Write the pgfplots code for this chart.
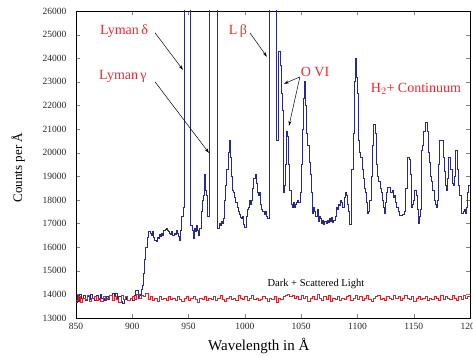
\documentclass[border=0pt]{standalone}
\usepackage{pgfplots}
\pgfplotsset{compat=1.18}
\usepackage{fontspec}
\setmainfont{Liberation Serif}
\usetikzlibrary{arrows.meta}
\definecolor{specblue}{RGB}{40,40,145}
\definecolor{specred}{RGB}{232,30,40}
\definecolor{annred}{RGB}{240,40,50}
\begin{document}
\begin{tikzpicture}
\begin{axis}[
  scale only axis,
  width=394pt, height=307pt,
  xmin=850, xmax=1200, ymin=13000, ymax=26000,
  xtick={850,900,...,1200},
  ytick={13000,14000,...,26000},
  scaled y ticks=false, scaled x ticks=false,
  tick pos=both, tick align=inside,
  major tick length=4pt,
  /pgf/number format/assume math mode=true,
  /pgf/number format/1000 sep={},
  /pgf/number format/fixed,
  ticklabel style={font=\fontsize{9.5}{11}\selectfont, text=black!85},
  yticklabel style={xshift=-6pt},
  xticklabel style={yshift=-2pt},
  xlabel={Wavelength in Å},
  ylabel={Counts per Å},
  xlabel style={font=\fontsize{15}{17}\selectfont, at={(axis description cs:0.464,0)}, anchor=base, yshift=-33pt},
  ylabel style={font=\fontsize{13}{15}\selectfont, at={(axis description cs:-0.147,0.49)}, anchor=center},
  axis line style={black, line width=0.8pt},
  clip=true,
]
% Blue spectrum
\addplot[const plot, specblue, line width=0.8pt] coordinates {
(850,13650) (851,13950) (852,13700) (853,14000) (855,13850) (857,13950) (858,13750) (860,13900)
(862,13800) (863,14000) (865,13850) (866,13750) (868,13950) (870,13800) (872,14000) (873,13850)
(875,13750) (877,13900) (879,13800) (880,13950) (882,14050) (884,13900) (885,14050) (887,13800)
(888,13900) (890,13700) (891,13600) (893,13800) (895,13900) (896,13750) (898,13850) (900,13750)
(902,13950) (903,14150) (905,13850) (906,13950) (907,14000) (908,14200) (909,14400) (910,14900)
(911,15500) (912,16000) (913,16400) (914,16650) (916,16600) (917,16500) (918,16650) (919,16400)
(920,16300) (921,16250) (922,16400) (923,16350) (924,16550) (925,16450) (926,16600) (927,16500)
(928,16700) (929,16750) (930,16800) (931,16700) (932,16650) (933,16600) (934,16550) (935,16650)
(936,16500) (937,16600) (938,16550) (939,16700) (940,16600) (941,16450) (942,16300) (943,16700)
(944,17300) (945,17700) (946,40000) (952,16900) (953,16700) (954,16350) (955,16800) (956,16650)
(957,16900) (958,16700) (959,16500) (960,16800) (961,17500) (962,18000) (963,18200) (964,19100)
(965,18400) (966,18200) (967,17300) (968.4,40000) (975.6,17100) (976,16800) (977,17000) (978,16900)
(979,17100) (980,17000) (981,17200) (982,18000) (983,18600) (984,19300) (985,20000) (986,20500)
(987,19800) (988,19000) (989,18400) (990,18300) (991,18100) (992,17900) (993,17700) (994,17500)
(995,17400) (996,17250) (997,17200) (998,17300) (999,16950) (1000,16850) (1001,17300) (1002,17600)
(1003,17700) (1004,18000) (1005,17800) (1006,18000) (1007,18500) (1008,18900) (1009,19100) (1010,18700)
(1011,18300) (1012,18200) (1013,18300) (1014,17800) (1015,17600) (1016,17500) (1017,17400) (1018,17500)
(1019,17300) (1020,17200) (1021.4,40000) (1028.2,20500) (1029.5,24300) (1031.5,23700) (1032.5,22500)
(1033.2,21800) (1034,18300) (1035,18600) (1036,19500) (1037,20900) (1038,20700) (1039,19500) (1040,18400)
(1041,17800) (1042,17700) (1043,17900) (1044,17700) (1045,17800) (1046,17900) (1047,18000) (1048,17900)
(1049,18300) (1050,19500) (1051,21000) (1052,22300) (1053,23000) (1054,22000) (1055,20800) (1056,20300)
(1057,19600) (1058,19100) (1059,18300) (1060,17450) (1061,17700) (1062,17500) (1063,17300) (1064,17600)
(1065,17100) (1066,17300) (1067,17200) (1068,17000) (1069,17150) (1070,16950) (1071,17100) (1072,17000)
(1073,17150) (1074,17050) (1075,17200) (1076,17100) (1077,17250) (1078,17050) (1079,17150) (1080,17300)
(1081,17700) (1082,17600) (1083,17800) (1084,17750) (1085,18000) (1086,17900) (1087,17700) (1088,18100)
(1089,18300) (1090,18200) (1091,17800) (1092,17500) (1093,16950) (1095,19300) (1096,20800) (1097,23000)
(1098,24000) (1099,23200) (1100,22500) (1101,20500) (1102,20000) (1103,19800) (1104,19300) (1105,18900)
(1106,18500) (1107,18300) (1108,17900) (1109,17450) (1110,17500) (1111,18000) (1112,19000) (1113,20300)
(1114,21200) (1116,20800) (1117,19500) (1118,19000) (1119,18800) (1120,18500) (1121,18300) (1122,18000)
(1123,17700) (1124,17450) (1125,17900) (1126,18300) (1127,18550) (1129,18300) (1131,18400) (1132,18100)
(1133,18200) (1134,17900) (1135,17700) (1136,17500) (1137,17350) (1140,17400) (1142,17500) (1143,18500)
(1144,19800) (1146,19700) (1147,19100) (1148,17700) (1149,17800) (1150,18000) (1151,18400) (1152,18200)
(1153,17600) (1154,17000) (1155,17300) (1156,17600) (1157,20100) (1158,20300) (1159,20900) (1160,21300)
(1162,20900) (1163,20000) (1164,19600) (1165,19000) (1166,18800) (1167,18400) (1168,18000) (1169,17800)
(1170,17700) (1171,18000) (1172,19500) (1173,20500) (1176,19800) (1177,19200) (1178,18600) (1179,18400)
(1180,18900) (1181,19800) (1183,19300) (1184,18700) (1185,18600) (1186,19000) (1187,20100) (1189,19300)
(1190,18600) (1191,18200) (1192,17450) (1194,17500) (1195,17600) (1196,17450) (1197,17700) (1198,18300)
(1199,18600) (1200,19000)
};
% Red dark + scattered light
\addplot[const plot, specred, line width=0.8pt] coordinates {
(850,13750) (852,13900) (854,13650) (856,13850) (858,13800) (860,13950) (862,13700) (864,13850)
(866,13900) (868,13750) (870,13850) (872,13700) (874,13900) (876,13800) (878,13850) (880,13950)
(882,13750) (884,13900) (886,13800) (888,13650) (890,13950) (892,13800) (894,13900) (896,13750)
(898,13850) (900,13900) (902,13800) (904,14000) (906,13850) (908,13950) (910,13900) (912,14050)
(914,13800) (916,13900) (918,13750) (920,13850) (922,13700) (924,13900) (926,13800) (928,13850)
(930,13750) (932,13900) (934,13800) (936,13850) (938,13750) (940,13900) (942,13800) (944,13700)
(946,13850) (948,13900) (950,13750) (952,13850) (954,13900) (956,13800) (958,13650) (960,13850)
(962,13800) (964,13900) (966,13750) (968,13850) (970,13800) (972,13900) (974,13750) (976,13850)
(978,13950) (980,13800) (982,13700) (984,13850) (986,13900) (988,13800) (990,13850) (992,13750)
(994,13950) (996,13850) (998,13800) (1000,13900) (1002,13750) (1004,13850) (1006,13950) (1008,13800)
(1010,13850) (1012,13750) (1014,13800) (1016,13900) (1018,13850) (1020,13700) (1022,13850) (1024,13800)
(1026,13900) (1028,13650) (1030,13850) (1032,13800) (1034,13900) (1036,13950) (1038,14000) (1040,13900)
(1042,13950) (1044,13850) (1046,13900) (1048,13800) (1050,13950) (1052,13850) (1054,13900) (1056,13700)
(1058,13850) (1060,13900) (1062,13800) (1064,14000) (1066,13850) (1068,13750) (1070,13900) (1072,13800)
(1074,13950) (1076,13700) (1078,13850) (1080,13800) (1082,13900) (1084,13750) (1086,13850) (1088,13800)
(1090,13900) (1092,13950) (1094,13750) (1096,13850) (1098,13950) (1100,13800) (1102,13900) (1104,13750)
(1106,13850) (1108,13950) (1110,13800) (1112,13700) (1114,13850) (1116,13900) (1118,13950) (1120,13800)
(1122,13850) (1124,13750) (1126,13900) (1128,13850) (1130,13800) (1132,13950) (1134,13850) (1136,13900)
(1138,13750) (1140,13850) (1142,13950) (1144,13850) (1146,13800) (1148,13900) (1150,13700) (1152,13850)
(1154,13900) (1156,13800) (1158,13850) (1160,13900) (1162,13750) (1164,13850) (1166,13800) (1168,13900)
(1170,13850) (1172,13750) (1174,13950) (1176,13800) (1178,13900) (1180,13850) (1182,13800) (1184,13950)
(1186,13850) (1188,13750) (1190,13900) (1192,13800) (1194,13950) (1196,13850) (1198,13900) (1200,14050)
};
% Annotations
\node[annred, font=\fontsize{14}{16}\selectfont] at (axis cs:892.6,25160) {Lyman\,δ};
\node[annred, font=\fontsize{14}{16}\selectfont] at (axis cs:891.7,23210) {Lyman\,γ};
\node[annred, font=\fontsize{14}{16}\selectfont] at (axis cs:993.9,25160) {L\,β};
\node[annred, font=\fontsize{14}{16}\selectfont] at (axis cs:1062.3,23420) {O VI};
\node[annred, font=\fontsize{14}{16}\selectfont] at (axis cs:1152,22700) {H$_2$+ Continuum};
\node[black, font=\fontsize{10.5}{12}\selectfont] at (axis cs:1063.1,14440) {Dark + Scattered Light};
\draw[-{Stealth[length=5pt,width=3pt]}, line width=0.5pt] (axis cs:920.2,25076) -- (axis cs:945,23508);
\draw[-{Stealth[length=5pt,width=3pt]}, line width=0.5pt] (axis cs:920.2,23000) -- (axis cs:968.1,19990);
\draw[-{Stealth[length=5pt,width=3pt]}, line width=0.5pt] (axis cs:1004.5,25076) -- (axis cs:1019.6,24060);
\draw[-{Stealth[length=5pt,width=3pt]}, line width=0.5pt] (axis cs:1048.9,23210) -- (axis cs:1034.7,22915);
\draw[-{Stealth[length=5pt,width=3pt]}, line width=0.5pt] (axis cs:1048.9,23210) -- (axis cs:1039.2,21136);
\end{axis}
\pgfresetboundingbox
\useasboundingbox ([shift={(-76pt,-39pt)}]current axis.south west) rectangle ([shift={(3pt,11pt)}]current axis.north east);
\end{tikzpicture}
\end{document}
